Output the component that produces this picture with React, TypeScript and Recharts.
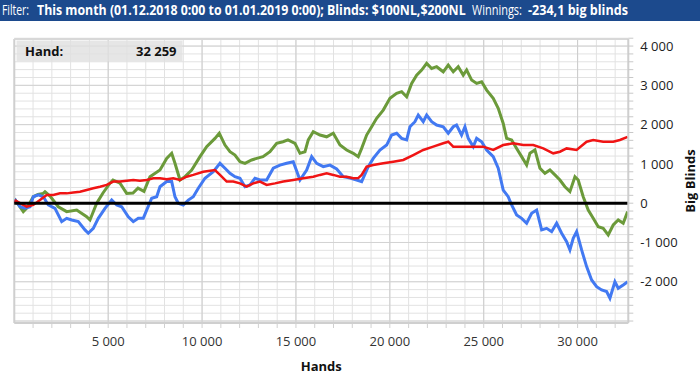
import React, { useLayoutEffect, useRef, useState } from 'react';
import { LineChart, Line, XAxis, YAxis, CartesianGrid, ReferenceLine } from 'recharts';

// ---- data (hands -> big blinds) ----
const greenHands = [0,75,479,676,1012,1262,1544,1635,1901,2343,2790,3323,3855,4031,4388,4723,5096,5256,5629,5985,6321,6587,6907,7226,7759,8115,8382,8557,8824,9090,9447,9889,10245,10687,10916,11220,11486,11752,12018,12285,12642,12908,13244,13617,13973,14308,14575,14948,15214,15480,15656,15922,16279,16635,16987,17345,17700,18052,18318,18499,18765,19032,19298,19649,20006,20363,20629,20896,21162,21428,21694,21961,22227,22493,22845,23111,23377,23643,23909,24091,24357,24623,24889,25156,25507,25773,26039,26220,26487,26753,27019,27286,27461,27728,27994,28260,28526,28793,29059,29325,29591,29858,30033,30299,30566,30832,31098,31364,31631,31897,32163,32429,32664];
const greenBB = [0,65,-215,-120,165,220,250,290,180,-90,-215,-175,-345,-427,0,260,510,590,510,250,260,385,300,675,845,1140,1270,1015,590,675,845,1185,1440,1650,1780,1480,1310,1225,1055,1015,1100,1140,1185,1310,1525,1565,1610,1525,1270,1310,1610,1820,1735,1690,1780,1480,1355,1270,1185,1395,1735,1945,2160,2370,2670,2795,2840,2710,3050,3260,3390,3560,3430,3475,3345,3515,3345,3475,3260,3390,3135,3050,3090,2880,2670,2415,2030,1650,1610,1395,1185,970,1270,1355,890,760,845,720,590,420,295,675,590,165,-175,-385,-600,-640,-810,-555,-427,-510,-215];

const blueHands = [0,75,304,570,836,1012,1278,1544,1811,2167,2524,2790,3057,3408,3765,3941,4207,4473,4830,5187,5453,5719,6071,6337,6603,6869,7050,7317,7583,7759,8115,8382,8557,8733,9000,9266,9532,9798,10155,10597,10954,11220,11486,11752,12018,12285,12551,12817,13083,13440,13792,14149,14506,14857,15214,15571,15837,16103,16454,16811,17168,17519,17876,18233,18499,18851,19117,19473,19830,20096,20363,20629,20896,21071,21337,21513,21780,21961,22227,22493,22845,23111,23377,23553,23820,24000,24176,24442,24623,24889,25156,25507,25773,26039,26305,26487,26753,27019,27286,27552,27818,28085,28351,28617,28883,29150,29416,29591,29767,29948,30214,30480,30747,31013,31279,31545,31721,31987,32163,32429,32664];
const blueBB = [0,65,-90,-130,-90,165,210,165,-45,-130,-470,-385,-427,-470,-680,-765,-640,-385,-130,80,-45,-90,-345,-470,-385,-385,-175,125,165,420,550,550,165,0,-45,80,165,380,635,800,1015,890,760,675,635,420,465,635,590,590,890,970,1015,1055,590,845,1185,1015,930,970,870,675,640,590,550,930,1140,1355,1480,1735,1780,1650,1610,1945,2075,2245,2075,2245,2075,1990,1945,1780,1945,1990,1735,1945,1650,1440,1650,1565,1355,1185,890,335,165,-45,-300,-385,-510,-255,-175,-680,-640,-725,-510,-765,-980,-1190,-895,-725,-1190,-1615,-1955,-2125,-2210,-2250,-2420,-2000,-2165,-2080,-2000];

const redHands = [0,75,304,660,1012,1369,1725,2077,2434,2790,3142,3499,3855,4207,4564,4920,5272,5629,5985,6337,6694,7050,7402,7759,8115,8467,8824,9180,9532,10064,10687,10954,11311,11662,12018,12375,12727,13083,13440,13883,14324,14857,15389,15922,16279,16635,16987,17345,17700,18052,18318,18499,18765,19117,19649,20182,20714,21247,21780,22312,22845,23111,23377,23909,24442,24974,25507,26039,26572,27104,27637,28170,28702,29059,29416,29948,30480,30832,31364,31897,32253,32664];
const redBB = [0,65,0,-90,-45,80,210,210,250,250,270,290,335,380,420,465,550,550,570,590,570,590,635,635,610,635,590,675,720,800,845,720,550,550,505,420,505,550,465,505,550,590,635,675,720,760,720,675,675,635,640,720,930,970,1015,1055,1100,1225,1355,1440,1525,1565,1440,1440,1440,1440,1355,1480,1525,1480,1480,1395,1270,1310,1395,1355,1565,1610,1565,1565,1610,1690];

const xDomain = [0, 32700];
const yDomain = [-3050, 4180];
const xMajor = [5000, 10000, 15000, 20000, 25000, 30000];
const yMajor = [-3000, -2000, -1000, 1000, 2000, 3000, 4000];
const xTicks = Array.from({ length: 32 }, (_, i) => (i + 1) * 1000);
const yTicks = Array.from({ length: 37 }, (_, i) => -3000 + i * 200);

const headerParts = [
  { t: 'Filter:', b: false, x: 2, w: 27 },
  { t: 'This month (01.12.2018 0:00 to 01.01.2019 0:00); Blinds: $100NL,$200NL', b: true, x: 37, w: 429 },
  { t: 'Winnings:', b: false, x: 472, w: 50 },
  { t: '-234,1 big blinds', b: true, x: 528, w: 100 },
];
const handLabel = 'Hand:';
const handValue = '32 259';

const zip = (h: number[], v: number[]) => h.map((x, i) => ({ h: x, v: v[i] }));
const greenData = zip(greenHands, greenBB);
const blueData = zip(blueHands, blueBB);
const redData = zip(redHands, redBB);

const fmt = (n: number) => String(n).replace(/\B(?=(\d{3})+(?!\d))/g, ' ');

const FONT = '"Open Sans", "Noto Sans", sans-serif';

const YLabel = (props: any) => {
  const vb = props.viewBox || { x: 628.3, y: 39, width: 71.7, height: 284 };
  const cx = vb.x + 61.5;
  const cy = vb.y + vb.height / 2;
  return (
    <text x={cx} y={cy} transform={`rotate(-90 ${cx} ${cy})`} textAnchor="middle" dominantBaseline="central"
      fontWeight="bold" fontSize={13} fill="#111" fontFamily={FONT}>Big Blinds</text>
  );
};

// Text squeezed horizontally to a given width (header text is condensed in the reference)
const FitText = ({ x, y, w, children, ...rest }: any) => {
  const ref = useRef<SVGTextElement>(null);
  const [s, setS] = useState(1);
  useLayoutEffect(() => {
    if (ref.current) {
      const n = ref.current.getComputedTextLength();
      if (n > 0) setS(Math.min(1, w / n));
    }
  }, [w]);
  return (
    <text ref={ref} x={0} y={0} transform={`translate(${x} ${y}) scale(${s} 1)`} {...rest}>{children}</text>
  );
};

export default function App() {
  return (
    <div style={{ position: 'absolute', left: 0, top: 0, width: 700, height: 380, background: '#fff', fontFamily: FONT }}>
      <LineChart width={700} height={380} margin={{ top: 39, right: 0, bottom: 0, left: 14.3 }}>
        <CartesianGrid stroke="#e2e2e2" strokeWidth={1} />
        <XAxis
          type="number"
          dataKey="h"
          domain={xDomain}
          allowDataOverflow
          ticks={xTicks}
          interval={0}
          height={57}
          tickFormatter={(v: number) => (v % 5000 === 0 ? fmt(v) : '')}
          tick={{ fontSize: 13, fill: '#333', fontFamily: FONT }}
          tickSize={5}
          tickMargin={9}
          tickLine={{ stroke: '#d0d0d0' }}
          axisLine={{ stroke: '#cfcfcf', strokeWidth: 2 }}
          label={{ value: 'Hands', position: 'insideBottom', offset: 9, fontWeight: 'bold', fontSize: 13, fill: '#111' }}
        />
        <YAxis
          type="number"
          orientation="right"
          domain={yDomain}
          allowDataOverflow
          ticks={yTicks}
          interval={0}
          width={71.7}
          tickFormatter={(v: number) => (v % 1000 === 0 && v >= -2000 ? fmt(v) : '')}
          tick={{ fontSize: 13, fill: '#222', fontFamily: FONT }}
          tickSize={5}
          tickMargin={7}
          tickLine={{ stroke: '#c8c8c8' }}
          axisLine={{ stroke: '#cfcfcf', strokeWidth: 2 }}
          label={<YLabel />}
        />
        {xMajor.map((x) => (
          <ReferenceLine key={'vx' + x} x={x} stroke="#cccccc" strokeWidth={1} />
        ))}
        {yMajor.map((y) => (
          <ReferenceLine key={'hy' + y} y={y} stroke="#d2d2d2" strokeWidth={1} />
        ))}
        <ReferenceLine x={xDomain[0]} stroke="#cfcfcf" strokeWidth={2} />
        <ReferenceLine y={yDomain[1]} stroke="#d8d8d8" strokeWidth={2} />
        <Line data={greenData} dataKey="v" type="linear" stroke="#6b9a3a" strokeWidth={3} dot={false} isAnimationActive={false} />
        <Line data={blueData} dataKey="v" type="linear" stroke="#4279f2" strokeWidth={3} dot={false} isAnimationActive={false} />
        <Line data={redData} dataKey="v" type="linear" stroke="#f01414" strokeWidth={2.5} dot={false} isAnimationActive={false} />
        <ReferenceLine y={0} stroke="#000" strokeWidth={3} />
      </LineChart>
      <svg width={700} height={21} style={{ position: 'absolute', left: 0, top: 0 }}>
        <rect x={0} y={0} width={700} height={21} fill="#1c4a8d" />
        {headerParts.map((p, i) => (
          <FitText key={i} x={p.x} y={15} w={p.w} fontSize={14} fill="#fff" fontFamily={FONT}
            fontWeight={p.b ? 'bold' : 'normal'}>{p.t}</FitText>
        ))}
      </svg>
      <svg width={200} height={30} style={{ position: 'absolute', left: 0, top: 38 }}>
        <rect x={16.5} y={2.5} width={166} height={21} fill="rgba(224,224,224,0.8)" />
        <text x={25} y={17.5} fontSize={13} fontWeight="bold" fill="#111" fontFamily={FONT}>{handLabel}</text>
        <text x={176.5} y={17.5} fontSize={13} fontWeight="bold" fill="#111" fontFamily={FONT} textAnchor="end">{handValue}</text>
      </svg>
    </div>
  );
}
